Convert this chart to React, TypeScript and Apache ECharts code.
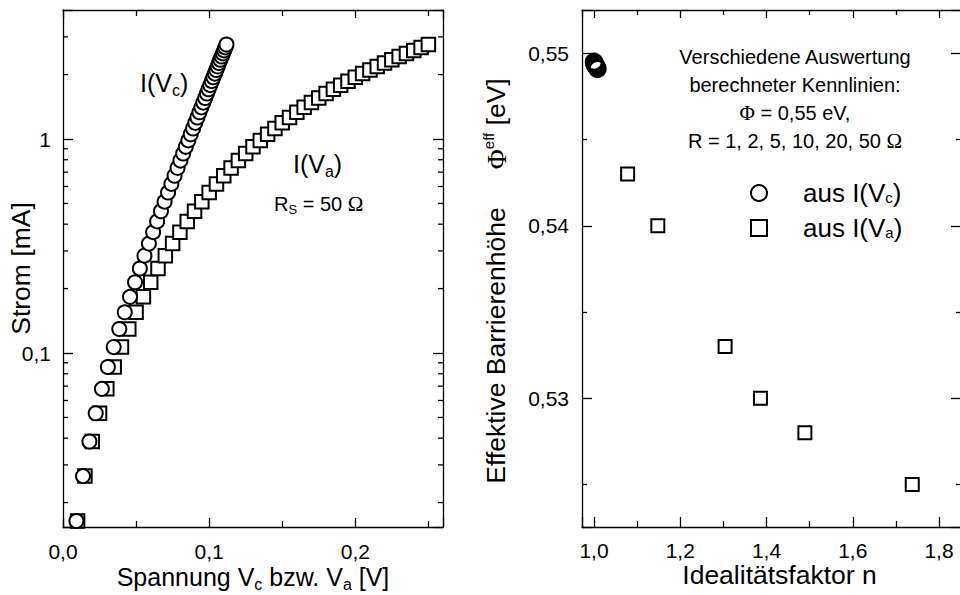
import React, { useEffect, useRef } from 'react';
import * as echarts from 'echarts';

// ---------- data ----------
// left panel: applied voltage Va [V], current [mA], diode voltage Vc [V]
const vaValues = [
  0.010, 0.015, 0.020, 0.025, 0.030, 0.035, 0.040, 0.045, 0.050, 0.055,
  0.060, 0.065, 0.070, 0.075, 0.080, 0.085, 0.090, 0.095, 0.100, 0.105,
  0.110, 0.115, 0.120, 0.125, 0.130, 0.135, 0.140, 0.145, 0.150, 0.155,
  0.160, 0.165, 0.170, 0.175, 0.180, 0.185, 0.190, 0.195, 0.200, 0.205,
  0.210, 0.215, 0.220, 0.225, 0.230, 0.235, 0.240, 0.245, 0.250,
];
const currentValues = [
  0.0164, 0.0266, 0.0386, 0.0523, 0.0680, 0.0860, 0.1066, 0.1295, 0.1550, 0.1830,
  0.2142, 0.2482, 0.2850, 0.3246, 0.3670, 0.4120, 0.4596, 0.5097, 0.5622, 0.6168,
  0.6737, 0.7325, 0.7931, 0.8555, 0.9195, 0.9850, 1.052, 1.120, 1.190, 1.261,
  1.333, 1.406, 1.480, 1.555, 1.631, 1.708, 1.785, 1.864, 1.943, 2.022,
  2.102, 2.183, 2.265, 2.347, 2.429, 2.512, 2.595, 2.679, 2.763,
];
const vcValues = [
  0.00918, 0.01367, 0.01807, 0.02238, 0.0266, 0.0307, 0.03467, 0.03852, 0.04225, 0.04585,
  0.04929, 0.05259, 0.05575, 0.05877, 0.06165, 0.0644, 0.06702, 0.06951, 0.07189, 0.07416,
  0.07631, 0.07837, 0.08034, 0.08222, 0.08402, 0.08575, 0.0874, 0.089, 0.0905, 0.09195,
  0.09335, 0.0947, 0.096, 0.09725, 0.09845, 0.0996, 0.10075, 0.1018, 0.10285, 0.1039,
  0.1049, 0.10585, 0.10675, 0.10765, 0.10855, 0.1094, 0.11025, 0.11105, 0.11185,
];
// right panel: ideality factor n and effective barrier height [eV]
const idealityFromVc = [1.000, 1.001, 1.002, 1.004, 1.006, 1.008];
const barrierFromVc = [0.5495, 0.54943, 0.54935, 0.54928, 0.5492, 0.5491];
const idealityFromVa = [1.078, 1.148, 1.304, 1.386, 1.489, 1.738];
const barrierFromVa = [0.5430, 0.5400, 0.5330, 0.5300, 0.5280, 0.5250];
// minor tick values of the logarithmic current axis
const logMinorTicks = [0.02, 0.03, 0.04, 0.05, 0.06, 0.07, 0.08, 0.09, 0.2, 0.3, 0.4, 0.5, 0.6, 0.7, 0.8, 0.9, 2, 3];

const SANS = '"Liberation Sans", Arial, sans-serif';
const SERIF = '"Liberation Serif", "Times New Roman", serif';

const L_XMIN = 0;
const L_XMAX = 0.26;
const L_YMIN = 0.01538;
const L_YMAX = 4.007;
const R_XMIN = 0.97217;
const R_XMAX = 1.851;
const R_YMIN = 0.52254;
const R_YMAX = 0.55251;

const isMultiple = (v: number, step: number) => {
  const r = v / step;
  return Math.abs(r - Math.round(r)) < 1e-6;
};
const comma = (v: number, d: number) => v.toFixed(d).replace('.', ',');

const axisLine = { show: true, onZero: false, lineStyle: { color: '#000', width: 1.3 } };
const tickStyle = { color: '#000', width: 1.3 };
const labelBase = { show: true, color: '#000', fontFamily: SANS, fontSize: 21 };
const tick = (len: number) => ({ show: true, inside: true, length: len, lineStyle: tickStyle });
const minor = (len: number) => ({ show: true, splitNumber: 2, length: len, lineStyle: tickStyle });

const subRich = (size: number) => ({
  t: { fontFamily: SANS, fontSize: size, lineHeight: 30, color: '#000' },
  s: { fontFamily: SANS, fontSize: Math.round(size * 0.62), lineHeight: 7, verticalAlign: 'bottom', color: '#000' },
  u: { fontFamily: SANS, fontSize: Math.round(size * 0.56), lineHeight: 12, verticalAlign: 'top', color: '#000' },
  p: { fontFamily: SERIF, fontSize: size + 1, lineHeight: 30, color: '#000' },
  g: { width: 38, lineHeight: 30 },
});

export default function App() {
  const ref = useRef<HTMLDivElement>(null);

  useEffect(() => {
    if (!ref.current) return;
    const chart = echarts.init(ref.current, undefined, { renderer: 'svg' });

    const option: any = {
      animation: false,
      backgroundColor: '#fff',
      textStyle: { fontFamily: SANS, color: '#000' },
      grid: [
        { left: 63, top: 10, width: 380, height: 517, containLabel: false, outerBoundsMode: 'none' },
        { left: 582, top: 10, width: 379, height: 517, containLabel: false, outerBoundsMode: 'none' },
      ],
      xAxis: [
        {
          gridIndex: 0, type: 'value', position: 'bottom', min: L_XMIN, max: L_XMAX, interval: 0.1,
          axisLine, splitLine: { show: false },
          axisTick: tick(9), minorTick: minor(6),
          axisLabel: { ...labelBase, margin: 14, formatter: (v: number) => (isMultiple(v, 0.1) ? comma(v, 1) : '') },
          name: '{t|Spannung V}{s|c}{t| bzw. V}{s|a}{t| [V]}',
          nameLocation: 'middle', nameGap: 35, nameMoveOverlap: false,
          nameTextStyle: { rich: subRich(25) },
        },
        {
          gridIndex: 0, type: 'value', position: 'top', min: L_XMIN, max: L_XMAX, interval: 0.1,
          axisLine, splitLine: { show: false },
          axisTick: tick(8), minorTick: minor(6),
          axisLabel: { show: false },
        },
        {
          gridIndex: 1, type: 'value', position: 'bottom', min: R_XMIN, max: R_XMAX, splitNumber: 4,
          axisLine, splitLine: { show: false },
          axisTick: tick(10), minorTick: minor(6),
          axisLabel: { ...labelBase, margin: 13, formatter: (v: number) => (isMultiple(v, 0.2) ? comma(v, 1) : '') },
          name: 'Idealitätsfaktor n',
          nameLocation: 'middle', nameGap: 33, nameMoveOverlap: false,
          nameTextStyle: { fontFamily: SANS, fontSize: 26.5, lineHeight: 30, color: '#000', padding: [0, 0, 0, 16] },
        },
        {
          gridIndex: 1, type: 'value', position: 'top', min: R_XMIN, max: R_XMAX, splitNumber: 4,
          axisLine, splitLine: { show: false },
          axisTick: tick(8), minorTick: minor(5),
          axisLabel: { show: false },
        },
      ],
      yAxis: [
        {
          gridIndex: 0, type: 'log', logBase: 10, position: 'left', min: L_YMIN, max: L_YMAX,
          axisLine, splitLine: { show: false },
          axisTick: tick(10), minorTick: { show: false },
          axisLabel: {
            ...labelBase, margin: 12,
            formatter: (v: number) => {
              const l = Math.log10(v);
              if (Math.abs(l - Math.round(l)) > 1e-6) return '';
              return v >= 1 ? String(Math.round(v)) : String(Number(v.toPrecision(3))).replace('.', ',');
            },
          },
          name: 'Strom [mA]', nameLocation: 'middle', nameRotate: 90, nameGap: 27, nameMoveOverlap: false,
          nameTextStyle: { fontFamily: SANS, fontSize: 26.5, lineHeight: 30, color: '#000' },
        },
        {
          gridIndex: 0, type: 'log', logBase: 10, position: 'right', min: L_YMIN, max: L_YMAX,
          axisLine, splitLine: { show: false },
          axisTick: tick(10), minorTick: { show: false },
          axisLabel: { show: false },
        },
        {
          gridIndex: 1, type: 'value', position: 'left', min: R_YMIN, max: R_YMAX, splitNumber: 3,
          axisLine, splitLine: { show: false },
          axisTick: tick(10), minorTick: minor(5),
          axisLabel: { ...labelBase, margin: 13, formatter: (v: number) => (isMultiple(v, 0.01) ? comma(v, 2) : '') },
          name: '{t|Effektive Barrierenhöhe}{g|}{p|Φ}{u|eff}{t| [eV]}',
          nameLocation: 'middle', nameRotate: 90, nameGap: 71, nameMoveOverlap: false,
          nameTextStyle: { rich: subRich(26.5), padding: [0, 25, 0, 0] },
        },
        {
          gridIndex: 1, type: 'value', position: 'right', min: R_YMIN, max: R_YMAX, splitNumber: 3,
          axisLine, splitLine: { show: false },
          axisTick: tick(10), minorTick: minor(5),
          axisLabel: { show: false },
        },
      ],
      legend: {
        data: [
          { name: 'aus I(Vc)', icon: 'circle', itemStyle: { color: 'transparent', borderColor: '#000', borderWidth: 2 } },
          { name: 'aus I(Va)', icon: 'rect', itemStyle: { color: 'transparent', borderColor: '#000', borderWidth: 2 } },
        ],
        orient: 'vertical', left: 750, top: 180, padding: 0, itemWidth: 16, itemHeight: 16, itemGap: 9,
        selectedMode: false,
        formatter: (name: string) =>
          name === 'aus I(Vc)' ? '{g|}{t|aus I(V}{s|c}{t|)}' : '{g|}{t|aus I(V}{s|a}{t|)}',
        textStyle: {
          color: '#000',
          rich: {
            g: { width: 31, lineHeight: 24 },
            t: { fontFamily: SANS, fontSize: 26, lineHeight: 24, color: '#000' },
            s: { fontFamily: SANS, fontSize: 15, lineHeight: 4, verticalAlign: 'bottom', color: '#000' },
          },
        },
      },
      graphic: [
        {
          type: 'text', x: 140, y: 68, silent: true,
          style: { text: '{t|I(V}{s|c}{t|)}', textAlign: 'left', textVerticalAlign: 'top', rich: subRich(25) },
        },
        {
          type: 'text', x: 293, y: 149, silent: true,
          style: { text: '{t|I(V}{s|a}{t|)}', textAlign: 'left', textVerticalAlign: 'top', rich: subRich(25) },
        },
        {
          type: 'text', x: 274, y: 192, silent: true,
          style: {
            text: '{t|R}{s|S}{t| = 50 }{p|Ω}', textAlign: 'left', textVerticalAlign: 'top',
            rich: {
              t: { fontFamily: SANS, fontSize: 20, lineHeight: 24, color: '#000' },
              s: { fontFamily: SANS, fontSize: 13, lineHeight: 6, verticalAlign: 'bottom', color: '#000' },
              p: { fontFamily: SERIF, fontSize: 21, lineHeight: 24, color: '#000' },
            },
          },
        },
        {
          type: 'text', x: 795, y: 43, silent: true,
          style: {
            text: '{t|Verschiedene Auswertung}\n{t|berechneter Kennlinien:}\n{p|Φ}{t| = 0,55 eV,}\n{t|R = 1, 2, 5, 10, 20, 50 }{p|Ω}',
            textAlign: 'center', textVerticalAlign: 'top',
            rich: {
              t: { fontFamily: SANS, fontSize: 20, lineHeight: 28, color: '#000' },
              p: { fontFamily: SERIF, fontSize: 21, lineHeight: 28, color: '#000' },
            },
          },
        },
      ],
      series: [
        {
          name: 'I(Va) links', type: 'scatter', xAxisIndex: 0, yAxisIndex: 0,
          symbol: 'rect', symbolSize: 13.5,
          itemStyle: { color: '#fff', borderColor: '#000', borderWidth: 2, opacity: 1 },
          data: vaValues.map((v, i) => [v, currentValues[i]]),
          silent: true, z: 3,
        },
        {
          name: 'I(Vc) links', type: 'scatter', xAxisIndex: 0, yAxisIndex: 0,
          symbol: 'circle', symbolSize: 14,
          itemStyle: { color: '#fff', borderColor: '#000', borderWidth: 2, opacity: 1 },
          data: vcValues.map((v, i) => [v, currentValues[i]]),
          silent: true, z: 4,
        },
        {
          name: 'log minor ticks', type: 'custom', xAxisIndex: 0, yAxisIndex: 0, silent: true, clip: false, z: 5,
          data: [
            ...logMinorTicks.map((v) => [L_XMIN, v, 1]),
            ...logMinorTicks.map((v) => [L_XMAX, v, -1]),
          ],
          encode: { x: 0, y: 1 },
          renderItem: (_p: any, api: any) => {
            const pt = api.coord([api.value(0), api.value(1)]);
            const dir = api.value(2);
            return {
              type: 'line',
              shape: { x1: pt[0], y1: pt[1], x2: pt[0] + dir * 5, y2: pt[1] },
              style: { stroke: '#000', lineWidth: 1.3 },
            };
          },
        },
        {
          name: 'aus I(Vc)', type: 'scatter', xAxisIndex: 2, yAxisIndex: 2,
          symbol: 'circle', symbolSize: 16,
          itemStyle: { color: 'transparent', borderColor: '#000', borderWidth: 2.5, opacity: 1 },
          data: idealityFromVc.map((v, i) => [v, barrierFromVc[i]]),
          silent: true,
        },
        {
          name: 'aus I(Va)', type: 'scatter', xAxisIndex: 2, yAxisIndex: 2,
          symbol: 'rect', symbolSize: 13,
          itemStyle: { color: 'transparent', borderColor: '#000', borderWidth: 2, opacity: 1 },
          data: idealityFromVa.map((v, i) => [v, barrierFromVa[i]]),
          silent: true,
        },
      ],
    };

    chart.setOption(option);
    return () => chart.dispose();
  }, []);

  return (
    <div style={{ position: 'fixed', left: 0, top: 0, width: 960, height: 595, overflow: 'hidden', background: '#fff' }}>
      <div ref={ref} style={{ width: 966, height: 595 }} />
    </div>
  );
}
